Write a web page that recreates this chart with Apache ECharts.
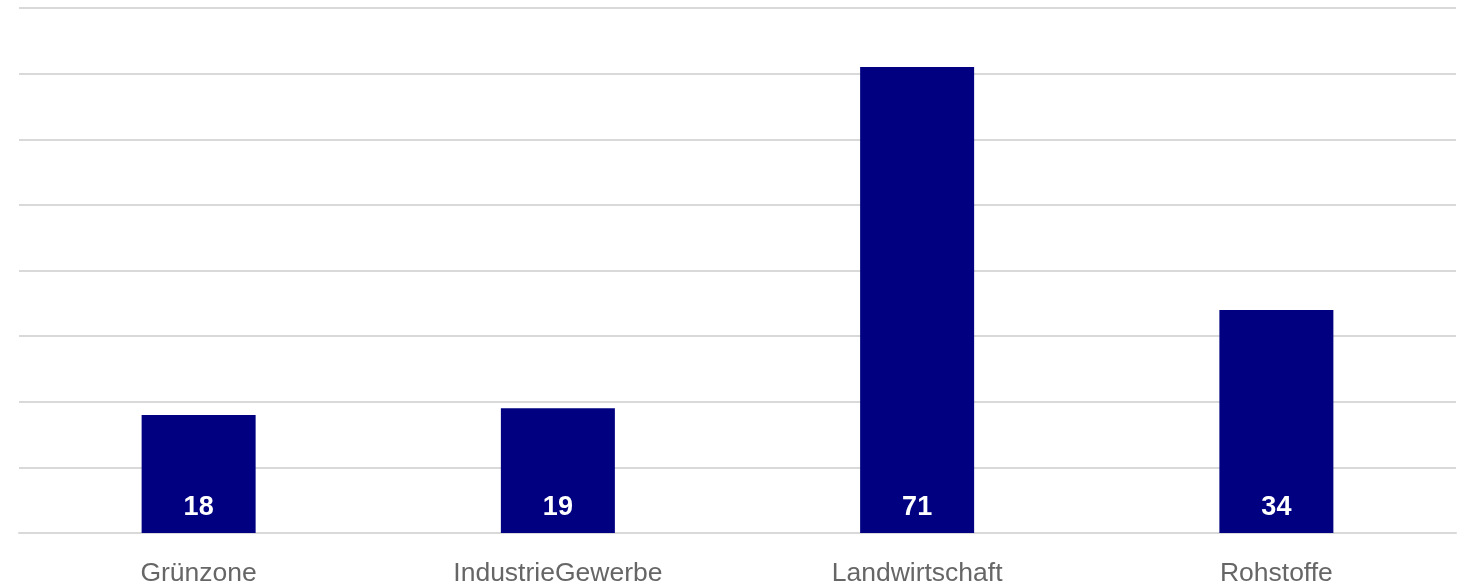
<!DOCTYPE html>
<html><head><meta charset="utf-8">
<script src="https://cdn.jsdelivr.net/npm/echarts@6/dist/echarts.min.js"></script>
<style>html,body{margin:0;padding:0;background:#fff}#c{width:1466px;height:583px}</style>
</head><body><div id="c"></div>
<script>
const categories = ["Grünzone", "IndustrieGewerbe", "Landwirtschaft", "Rohstoffe"];
const values = [18, 19, 71, 34];

const chart = echarts.init(document.getElementById('c'), null, {renderer: 'canvas'});
chart.setOption({
  animation: false,
  grid: {left: 19, right: 10, top: 8, bottom: 50, containLabel: false, outerBoundsMode: 'none'},
  xAxis: {
    type: 'category',
    data: categories,
    axisLine: {show: true, lineStyle: {color: '#d9d9d9', width: 2}},
    axisTick: {show: false},
    axisLabel: {color: '#666666', fontSize: 26.5, fontFamily: 'Liberation Sans', margin: 27}
  },
  yAxis: {
    type: 'value', min: 0, max: 80, interval: 10,
    axisLabel: {show: false},
    axisLine: {show: false}, axisTick: {show: false},
    splitLine: {lineStyle: {color: '#d9d9d9', width: 2}}
  },
  series: [{
    type: 'bar',
    data: values,
    barWidth: 114,
    itemStyle: {color: '#000080'},
    label: {
      show: true, position: 'insideBottom', distance: 12,
      color: '#ffffff', fontSize: 27, fontWeight: 'bold', fontFamily: 'Liberation Sans'
    }
  }]
});
</script></body></html>
